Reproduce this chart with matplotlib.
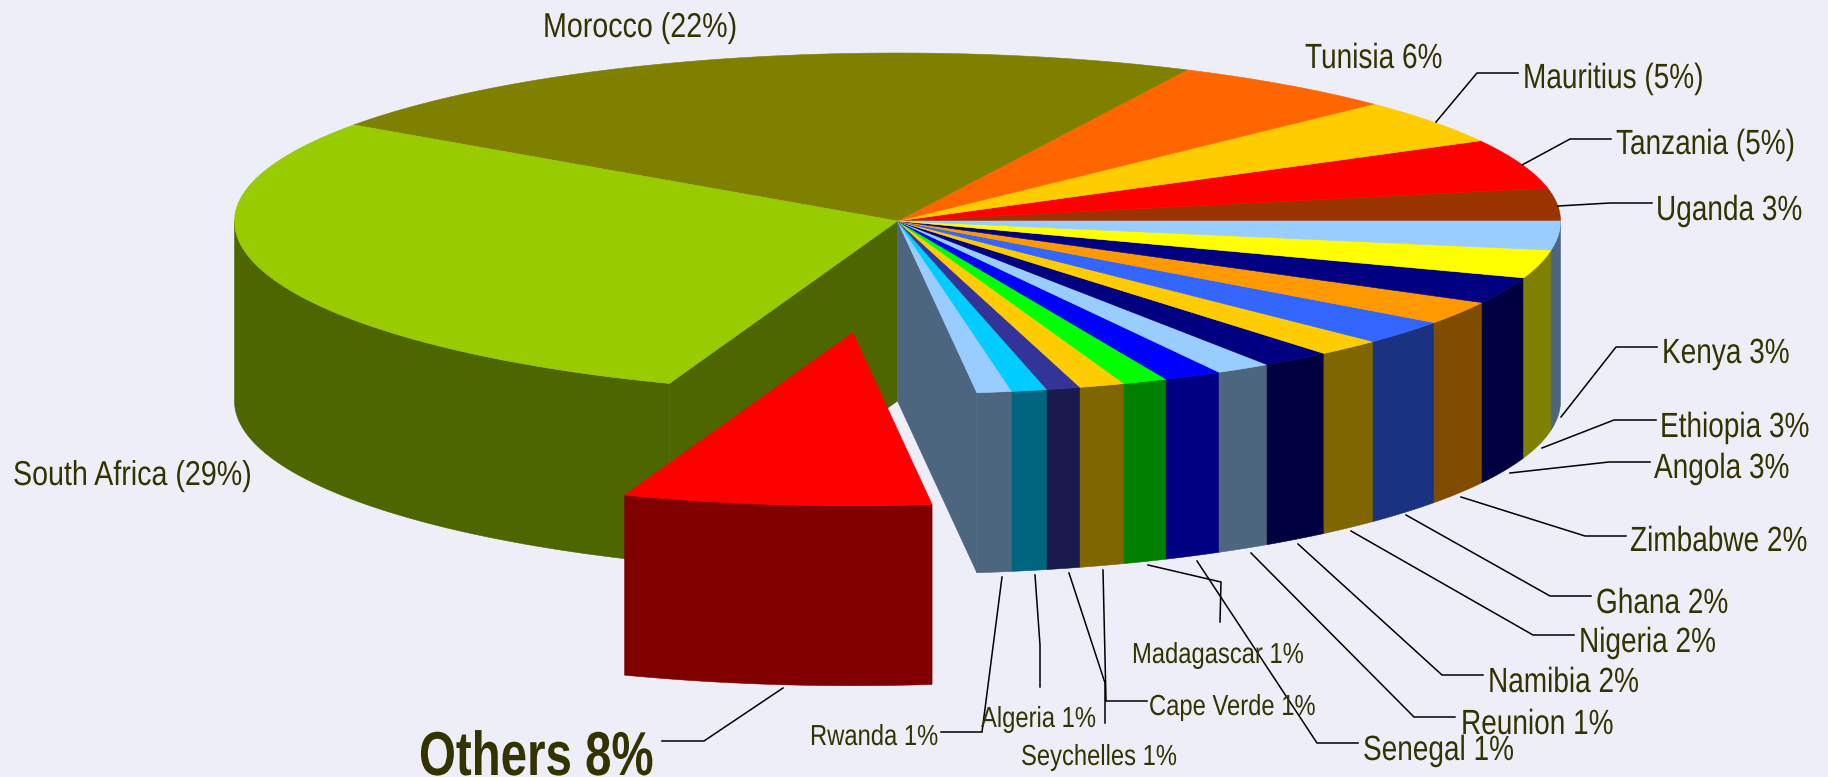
import numpy as np
import matplotlib
matplotlib.use("Agg")
import matplotlib.pyplot as plt
from matplotlib.patheffects import AbstractPathEffect
from matplotlib.text import Text
from matplotlib.transforms import Affine2D, Bbox

# ---- data: counter-clockwise from the 3 o'clock position ----
countries = ["Uganda", "Tanzania", "Mauritius", "Tunisia", "Morocco", "South Africa", "Others",
             "Rwanda", "Algeria", "Seychelles", "Cape Verde", "Madagascar", "Senegal", "Reunion",
             "Namibia", "Nigeria", "Ghana", "Zimbabwe", "Angola", "Ethiopia", "Kenya"]
shares = [3.14, 4.78, 4.33, 5.56, 22.5, 29.1, 7.5,
          0.85, 0.86, 0.82, 1.11, 1.09, 1.42, 1.35,
          1.71, 1.61, 2.28, 2.17, 2.49, 2.64, 2.69]
top_colors = ["#993300", "#FF0000", "#FFCC00", "#FF6600", "#808000", "#99CC00", "#FF0000",
              "#99CCFF", "#00CCFF", "#333399", "#FFCC00", "#00FF00", "#0000FF", "#99CCFF",
              "#000080", "#FFCC00", "#3366FF", "#FF9900", "#000080", "#FFFF00", "#99CCFF"]
wall_colors = ["#4D1A00", "#800000", "#806600", "#803300", "#404000", "#4D6600", "#800000",
               "#4D6680", "#006680", "#1A1A4D", "#806600", "#008000", "#000080", "#4D6680",
               "#000040", "#806600", "#1A3380", "#804D00", "#000040", "#808000", "#4D6680"]

# ---- labels: text, font px size, horizontal squeeze, left x, baseline y, leader polyline ----
labels = [
    ("Morocco (22%)", 34.5, 0.83, 543, 37, None),
    ("South Africa (29%)", 34.5, 0.83, 13, 485, None),
    ("Tunisia 6%", 35, 0.80, 1305, 68, None),
    ("Mauritius (5%)", 35, 0.80, 1523, 88, [(1436, 122), (1477, 73), (1518, 73)]),
    ("Tanzania (5%)", 35, 0.80, 1616, 154, [(1522, 165), (1570, 139), (1611, 139)]),
    ("Uganda 3%", 35, 0.80, 1656, 220, [(1558, 206), (1610, 203), (1652, 203)]),
    ("Kenya 3%", 35, 0.80, 1662, 363, [(1561, 417), (1616, 347), (1657, 347)]),
    ("Ethiopia 3%", 35, 0.80, 1660, 437, [(1542, 448), (1614, 420), (1656, 420)]),
    ("Angola 3%", 35, 0.80, 1654, 478, [(1510, 473), (1609, 462), (1650, 462)]),
    ("Zimbabwe 2%", 35, 0.80, 1630, 551, [(1461, 497), (1585, 536), (1626, 536)]),
    ("Ghana 2%", 35, 0.80, 1596, 613, [(1406, 515), (1550, 596), (1591, 596)]),
    ("Nigeria 2%", 35, 0.80, 1579, 652, [(1351, 531), (1533, 635), (1574, 635)]),
    ("Namibia 2%", 35, 0.80, 1488, 692, [(1298, 544), (1442, 675), (1483, 675)]),
    ("Reunion 1%", 35, 0.80, 1461, 734, [(1251, 553), (1414, 717), (1455, 717)]),
    ("Senegal 1%", 35, 0.80, 1363, 760, [(1197, 561), (1317, 743), (1358, 743)]),
    ("Madagascar 1%", 29, 0.82, 1132, 663, [(1148, 565), (1221, 582), (1220, 622)]),
    ("Cape Verde 1%", 29, 0.82, 1149, 715, [(1103, 570), (1106, 701), (1147, 701)]),
    ("Algeria 1%", 29, 0.82, 981, 727, [(1035, 575), (1040, 645), (1040, 687)]),
    ("Rwanda 1%", 29, 0.82, 810, 745, [(1002, 577), (982, 732), (941, 732)]),
    ("Seychelles 1%", 29, 0.82, 1021, 765, [(1069, 573), (1105, 683), (1105, 723)]),
]
bold_label = ("Others 8%", 62, 0.765, 419, 775, [(783, 688), (704, 741), (662, 741)])

# ---- layout in pixels ----
W, H = 1828, 777
CX, CY, RX, RY_UP, RY_DOWN, DEPTH = 897.5, 221, 663, 168, 173, 180
EXPLODE_DX, EXPLODE_DY = -44.8, 111.7
BG = "#EEEEF8"
TEXT = "#333300"
FONT = ["Liberation Sans", "DejaVu Sans"]


class Squeeze(AbstractPathEffect):
    """Draw a text's outline narrower: the reference uses a condensed face."""

    def __init__(self, sx):
        super().__init__()
        self.sx = sx

    def draw_path(self, renderer, gc, tpath, affine, rgbFace=None):
        m = affine.get_matrix().copy()
        m[0, :2] *= self.sx
        renderer.draw_path(gc, tpath, Affine2D(m), rgbFace)


class NarrowText(Text):
    def __init__(self, x, y, text, sx, **kw):
        super().__init__(x, y, text, **kw)
        self.sx = sx
        self.set_path_effects([Squeeze(sx)])

    def get_window_extent(self, renderer=None, dpi=None):
        bb = super().get_window_extent(renderer, dpi)
        return Bbox.from_extents(bb.x0, bb.y0, bb.x0 + bb.width * self.sx, bb.y1)


fig = plt.figure(figsize=(W / 100, H / 100), dpi=100, facecolor=BG)
ax = fig.add_axes([0, 0, 1, 1])
ax.set_xlim(0, W)
ax.set_ylim(H, 0)
ax.axis("off")


def rim(a0, a1, dx=0.0, dy=0.0):
    t = np.radians(np.linspace(a0, a1, max(2, int(abs(a1 - a0) * 2) + 2)))
    ry = np.where(np.sin(t) > 0, RY_UP, RY_DOWN)
    return CX + dx + RX * np.cos(t), CY + dy - ry * np.sin(t)


def fill(xs, ys, color, z):
    ax.fill(xs, ys, facecolor=color, edgecolor=color, linewidth=0.4, zorder=z)


def inner_wall(angle, color, z):
    x, y = rim(angle, angle)
    x, y = x[0], y[0]
    fill([CX, x, x, CX], [CY, y, y + DEPTH, CY + DEPTH], color, z)


def slice3d(a0, a1, top, wall, dx, dy, z):
    if a1 > 180:
        x, y = rim(max(a0, 180), a1, dx, dy)
        fill(np.r_[x, x[::-1]], np.r_[y, y[::-1] + DEPTH], wall, z)
    x, y = rim(a0, a1, dx, dy)
    fill(np.r_[CX + dx, x], np.r_[CY + dy, y], top, z + 1)


edges = np.r_[0, np.cumsum(shares)] / np.sum(shares) * 360
others = countries.index("Others")

# cut faces of the gap left by the exploded slice
inner_wall(edges[others], wall_colors[others - 1], 1)
inner_wall(edges[others + 1], wall_colors[others + 1], 1)

for i, name in enumerate(countries):
    if i == others:
        continue
    slice3d(edges[i], edges[i + 1], top_colors[i], wall_colors[i], 0, 0, 2)
slice3d(edges[others], edges[others + 1], top_colors[others], wall_colors[others],
        EXPLODE_DX, EXPLODE_DY, 4)

for text, px, sx, x, y, leader in labels:
    ax.add_artist(NarrowText(x, y, text, sx, fontsize=px * 0.72, color=TEXT, family=FONT,
                             ha="left", va="baseline", zorder=8))
    if leader:
        ax.plot(*zip(*leader), color="black", lw=1.1, zorder=7, solid_joinstyle="miter")

text, px, sx, x, y, leader = bold_label
ax.add_artist(NarrowText(x, y, text, sx, fontsize=px * 0.72, color=TEXT, family=FONT,
                         fontweight="bold", ha="left", va="baseline", zorder=8))
ax.plot(*zip(*leader), color="black", lw=1.1, zorder=7)

fig.savefig("out.png", dpi=100, facecolor=BG)
